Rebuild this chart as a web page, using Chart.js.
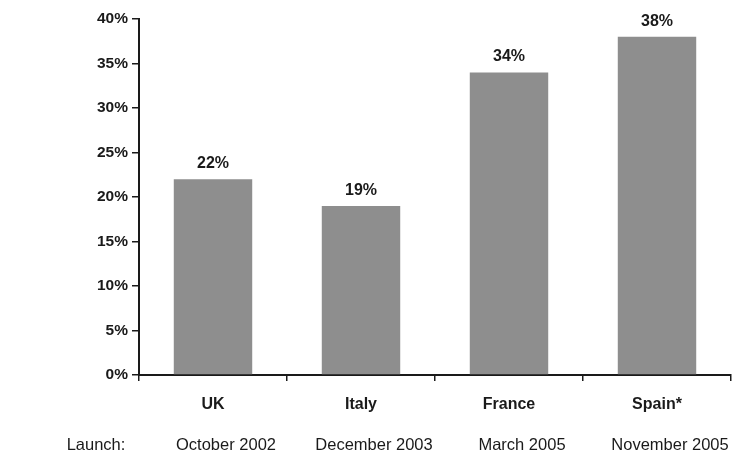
<!DOCTYPE html>
<html>
<head>
<meta charset="utf-8">
<script src="https://cdn.jsdelivr.net/npm/chart.js@4/dist/chart.umd.min.js"></script>
<style>
  html, body { margin: 0; padding: 0; background: #fff; }
  #wrap { width: 733px; height: 456px; }
</style>
</head>
<body>
<div id="wrap"><canvas id="shareChart" width="733" height="456"></canvas></div>
<script>
// Market share reached in each country, with launch dates
const countries = ['UK', 'Italy', 'France', 'Spain*'];
const shares = [22, 19, 34, 38];
const launchDates = ['October 2002', 'December 2003', 'March 2005', 'November 2005'];
const launchCaption = 'Launch:';
const yTicks = [0, 5, 10, 15, 20, 25, 30, 35, 40];

const INK = '#1a1a1a';
const BAR_GREY = '#8e8e8e';
const FONT = '"Liberation Sans", Arial, sans-serif';

// Percent labels over each bar
const valueLabels = {
    id: 'valueLabels',
    afterDatasetsDraw(chart) {
        const { ctx } = chart;
        const meta = chart.getDatasetMeta(0);
        ctx.save();
        ctx.font = 'bold 16px ' + FONT;
        ctx.fillStyle = INK;
        ctx.textAlign = 'center';
        ctx.textBaseline = 'alphabetic';
        meta.data.forEach((bar, i) => {
            ctx.fillText(shares[i] + '%', bar.x, bar.y - 11);
        });
        ctx.restore();
    }
};

// Second row under the axis: launch dates (sit a little right of the bar centres)
const launchRow = {
    id: 'launchRow',
    afterDraw(chart) {
        const { ctx } = chart;
        const xScale = chart.scales.x;
        ctx.save();
        ctx.font = '16.5px ' + FONT;
        ctx.fillStyle = INK;
        ctx.textAlign = 'center';
        ctx.textBaseline = 'middle';
        ctx.fillText(launchCaption, 96, 445);
        launchDates.forEach((d, i) => {
            ctx.fillText(d, xScale.getPixelForValue(i) + 13, 445);
        });
        ctx.restore();
    }
};

new Chart(document.getElementById('shareChart'), {
    type: 'bar',
    data: {
        labels: countries,
        datasets: [{
            data: shares,
            backgroundColor: BAR_GREY,
            borderWidth: 0,
            categoryPercentage: 1.0,
            barPercentage: 0.53
        }]
    },
    plugins: [valueLabels, launchRow],
    options: {
        responsive: false,
        animation: false,
        layout: { padding: { top: 19, right: 2, left: 0, bottom: 0 } },
        plugins: {
            legend: { display: false },
            tooltip: { enabled: false }
        },
        scales: {
            y: {
                min: 0,
                max: 40,
                afterBuildTicks(scale) {
                    scale.ticks = yTicks.map(v => ({ value: v }));
                },
                afterFit(scale) { scale.width = 139; },
                grid: {
                    drawOnChartArea: false,
                    tickLength: 7,
                    color: INK,
                    lineWidth: 1.5
                },
                border: { color: INK, width: 2 },
                ticks: {
                    padding: 4,
                    color: INK,
                    font: { family: FONT, size: 15.5, weight: 'bold' },
                    callback: v => v + '%'
                }
            },
            x: {
                afterFit(scale) { scale.height = 81; },
                grid: {
                    offset: true,
                    drawOnChartArea: false,
                    tickLength: 6,
                    color: INK,
                    lineWidth: 1.5
                },
                border: { color: INK, width: 2 },
                ticks: {
                    padding: 14,
                    color: INK,
                    font: { family: FONT, size: 16, weight: 'bold' }
                }
            }
        }
    }
});
</script>
</body>
</html>
